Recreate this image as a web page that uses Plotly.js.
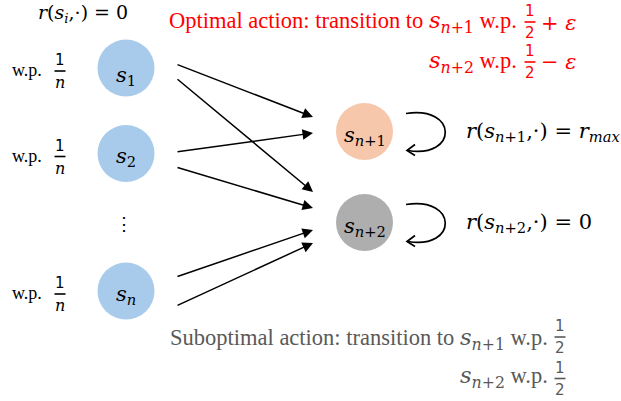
<!DOCTYPE html>
<html><head><meta charset="utf-8">
<script src="https://cdn.plot.ly/plotly-3.0.1.min.js"></script>
<style>html,body{margin:0;padding:0;background:#fff}#g{width:621px;height:401px}</style>
</head><body><div id="g"></div>
<script>
// ---- data ----
const sourceStates = ['1', '2', 'n'];              // subscripts of initial states
const sinkStates = ['n+1', 'n+2'];                 // subscripts of absorbing states
const startNum = ['1', '1', '1'];                   // w.p. 1/n
const startDen = ['n', 'n', 'n'];
const sinkRewards = ['r_max', '0'];
const sourceReward = '0';
const optimalFracs = [['1', '2', '+ ε'], ['1', '2', '− ε']];
const suboptimalFracs = [['1', '2'], ['1', '2']];

// ---- layout geometry ----
const srcX = 126, srcY = [68, 153.5, 291];
const srcLabOff = [8, 3, 4];
const sinkX = 364.5, sinkY = [131.5, 222.5];
const tailX = 176, headX = 313;
const tailOff = [[-4, 10], [-1.5, 13.5], [-14, 15]];
const blue = '#A9CBEB', peach = '#F6C7AB', gray = '#AEAEAE';
const serif = 'Liberation Serif, Times New Roman, serif';
const mathF = 'DejaVu Serif, serif';
const fracF = 'DejaVu Sans, sans-serif';

const M = t => '<span style="font-family:DejaVu Serif">' + t + '</span>';
const sub = s => s.replace(/n/g, '<i>n</i>');
const S = s => M('<i>s</i><sub>' + sub(s) + '</sub>');
const rew = r => r === 'r_max' ? M('<i>r</i><sub><i>max</i></sub>') : M(r);

const ann = [], shapes = [];
function txt(x, y, t, o) {
  o = o || {};
  ann.push({x, y, xref: 'x', yref: 'y', text: t, showarrow: false,
    xanchor: o.xa || 'center', yanchor: o.ya || 'middle', borderpad: o.bp === undefined ? 1 : o.bp,
    font: {family: o.f || serif, size: o.s || 20, color: o.c || '#000'}});
}
function frac(x, yl, num, den, col, sz, italicDen) {
  sz = sz || 15;
  txt(x, yl - 1, num, {ya: 'bottom', s: sz, c: col, f: fracF, bp: 0});
  txt(x, yl + 1, italicDen ? '<i>' + den + '</i>' : den,
      {ya: 'top', s: italicDen ? sz + 1 : sz, c: col, f: italicDen ? mathF : fracF, bp: 0});
  shapes.push({type: 'line', xref: 'x', yref: 'y', x0: x - 5.5, x1: x + 5.5, y0: yl, y1: yl,
    line: {color: col, width: 1.6}});
}

// node labels
sourceStates.forEach((s, i) => {
  txt(srcX, srcY[i] + srcLabOff[i], S(s), {s: 21, f: mathF});
  txt(44, srcY[i] + 2, 'w.p.', {xa: 'right', s: 18});
  frac(60, srcY[i] + 3, startNum[i], startDen[i], '#000', 15, true);
});
sinkStates.forEach((s, i) => {
  txt(sinkX, sinkY[i] + 4, S(s), {s: 21, f: mathF});
  txt(464, sinkY[i], M('<i>r</i>(') + S(s) + M(',·) = ') + rew(sinkRewards[i]), {xa: 'left', s: 21, f: mathF});
});
txt(36, 13, M('<i>r</i>(<i>s</i><sub><i>i</i></sub>,·) = ' + sourceReward), {xa: 'left', s: 19, f: mathF});
txt(124, 224, '⋮', {s: 18});

// arrows from sources to sinks
const heads = [[117, 192], [133, 208], [230, 243]];
sourceStates.forEach((s, i) => {
  [0, 1].forEach(k => {
    ann.push({x: headX, y: heads[i][k], ax: tailX, ay: srcY[i] + tailOff[i][k],
      xref: 'x', yref: 'y', axref: 'x', ayref: 'y', text: '', showarrow: true,
      arrowhead: 2, arrowsize: 1.4, arrowwidth: 1.5, arrowcolor: '#000'});
  });
});

// self loops
sinkY.forEach(y => {
  const y0 = y - 18, y1 = y + 19;
  shapes.push({type: 'path', xref: 'x', yref: 'y',
    path: `M 406 ${y0} C 458 ${y0 - 8} 458 ${y1 + 8} 408 ${y1}`,
    line: {color: '#000', width: 1.7}});
  shapes.push({type: 'path', xref: 'x', yref: 'y',
    path: `M 415 ${y1 - 6} L 407 ${y1} L 415 ${y1 + 5}`,
    line: {color: '#000', width: 1.7}});
});

// optimal action text (red)
const red = '#FF0000';
txt(519, 22, 'Optimal action: transition to ' + S('n+1') + ' w.p.', {xa: 'right', c: red, s: 22.5});
frac(530, 22, optimalFracs[0][0], optimalFracs[0][1], red);
txt(539, 23, M(optimalFracs[0][2].replace('ε', '<i>ε</i>')), {xa: 'left', c: red, s: 21, f: mathF});
txt(519, 62, S('n+2') + ' w.p.', {xa: 'right', c: red, s: 22.5});
frac(530, 62, optimalFracs[1][0], optimalFracs[1][1], red);
txt(539, 62, M(optimalFracs[1][2].replace('ε', '<i>ε</i>')), {xa: 'left', c: red, s: 21, f: mathF});

// suboptimal text (gray)
const dg = '#595959';
txt(550, 339, 'Suboptimal action: transition to ' + S('n+1') + ' w.p.', {xa: 'right', c: dg, s: 22.5});
frac(560, 337, suboptimalFracs[0][0], suboptimalFracs[0][1], dg);
txt(550, 377, S('n+2') + ' w.p.', {xa: 'right', c: dg, s: 22.5});
frac(560, 378.5, suboptimalFracs[1][0], suboptimalFracs[1][1], dg);

const nodes = {
  type: 'scatter', mode: 'markers', hoverinfo: 'skip',
  x: [srcX, srcX, srcX, sinkX, sinkX], y: [...srcY, ...sinkY],
  marker: {size: 57, color: [blue, blue, blue, peach, gray], line: {width: 0}}
};

Plotly.newPlot('g', [nodes], {
  width: 621, height: 401, margin: {l: 0, r: 0, t: 0, b: 0},
  paper_bgcolor: '#fff', plot_bgcolor: '#fff', showlegend: false,
  xaxis: {range: [0, 621], visible: false, fixedrange: true},
  yaxis: {range: [401, 0], visible: false, fixedrange: true},
  annotations: ann, shapes: shapes
}, {displayModeBar: false, staticPlot: true});
</script></body></html>
